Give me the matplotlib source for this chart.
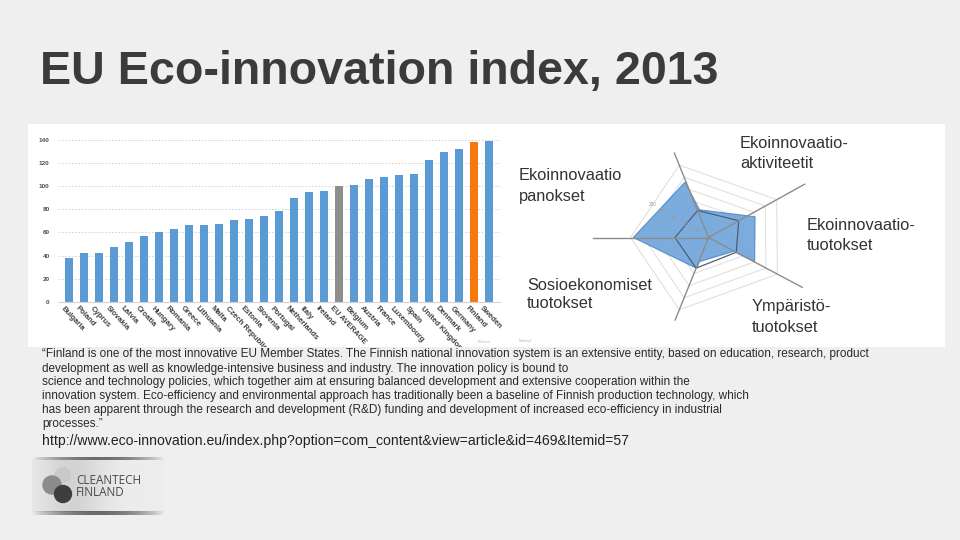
import numpy as np
import matplotlib
matplotlib.use('Agg')
import matplotlib.pyplot as plt
from matplotlib.patches import Rectangle, Circle
from matplotlib.transforms import ScaledTranslation

# Eco-innovation index 2013 (bar chart)
countries = ['Bulgaria', 'Poland', 'Cyprus', 'Slovakia', 'Latvia', 'Croatia', 'Hungary',
             'Romania', 'Greece', 'Lithuania', 'Malta', 'Czech Republic', 'Estonia',
             'Slovenia', 'Portugal', 'Netherlands', 'Italy', 'Ireland', 'EU AVERAGE',
             'Belgium', 'Austria', 'France', 'Luxembourg', 'Spain', 'United Kingdom',
             'Denmark', 'Germany', 'Finland', 'Sweden']
scores = [38, 42, 42.5, 47, 52, 57, 60, 63, 66, 66, 67, 71, 71.5, 74, 78, 90, 94.5,
          95.5, 100, 100.5, 106, 108, 109, 110, 122, 129, 132, 138, 139]
y_ticks = [0, 20, 40, 60, 80, 100, 120, 140]

# radar: five components (slide overlay texts) and their axis directions
components = [['Ekoinnovaatio', 'panokset'],
              ['Ekoinnovaatio-', 'aktiviteetit'],
              ['Ekoinnovaatio-', 'tuotokset'],
              ['Ympäristö-', 'tuotokset'],
              ['Sosioekonomiset', 'tuotokset']]
comp_angles = [112, 29, -28, -112, 180]
eu_values = [112, 133, 121, 127, 129]
# Finland outline (angle in degrees, index value)
fin_angles = [180, 113, 108, 24, -27.5, -29, -110.6, -111]
fin_values = [289, 231, 112, 196, 200, 110, 99, 127]
ring_values = [50, 100, 150, 200, 250, 300]

paragraph = [
    '\u201cFinland is one of the most innovative EU Member States. The Finnish national innovation system is an extensive entity, based on education, research, product',
    'development as well as knowledge-intensive business and industry. The innovation policy is bound to',
    'science and technology policies, which together aim at ensuring balanced development and extensive cooperation within the',
    'innovation system. Eco-efficiency and environmental approach has traditionally been a baseline of Finnish production technology, which',
    'has been apparent through the research and development (R&D) funding and development of increased eco-efficiency in industrial',
    'processes.\u201d',
]
url = 'http://www.eco-innovation.eu/index.php?option=com_content&view=article&id=469&Itemid=57'

W, H = 960, 540
def fx(x):
    return x / W
def fy(y):
    return 1 - y / H

plt.rcParams['font.family'] = ['Liberation Sans', 'DejaVu Sans']
fig = plt.figure(figsize=(9.6, 5.4), dpi=100)
fig.patch.set_facecolor('#efefef')

# title
fig.text(fx(40), fy(84), 'EU Eco-innovation index, 2013', fontsize=33.6, fontweight='bold',
         color='#3b3b3b', va='baseline')

# white screenshot panel
panel = Rectangle((fx(28), fy(347)), (945 - 28) / W, (347 - 124) / H,
                  transform=fig.transFigure, facecolor='white', edgecolor='none', zorder=0)
fig.add_artist(panel)

# ---- bar chart ----
ax = fig.add_axes([fx(58), fy(302), (500 - 58) / W, (302 - 139.5) / H])
ax.patch.set_alpha(0)
colors = []
for c in countries:
    if c == 'Finland':
        colors.append('#f7780c')
    elif c == 'EU AVERAGE':
        colors.append('#8e8e8e')
    else:
        colors.append('#5b9bd5')
x = np.arange(len(countries))
ax.bar(x, scores, width=0.55, color=colors, zorder=2)
ax.set_xlim(-0.75, len(countries) - 0.25)
ax.set_ylim(0, 140)
ax.set_yticks(y_ticks)
ax.yaxis.grid(True, linestyle=(0, (2, 2)), color='#cfcfcf', linewidth=0.6)
ax.set_axisbelow(True)
for s in ['top', 'right', 'left']:
    ax.spines[s].set_visible(False)
ax.spines['bottom'].set_color('#d4d4d4')
ax.spines['bottom'].set_linewidth(0.8)
ax.tick_params(axis='y', length=0, pad=6, labelsize=4.6, labelcolor='#505050')
ax.tick_params(axis='x', length=0, pad=2, labelsize=5.5, labelcolor='#404040')
for lbl in ax.get_yticklabels():
    lbl.set_fontweight('bold')
ax.set_xticks(x)
ax.set_xticklabels(countries, rotation=-47, ha='left', va='top', rotation_mode='anchor',
                   fontweight='bold')
for lbl in ax.get_xticklabels():
    lbl.set_transform(lbl.get_transform() + ScaledTranslation(-0.05, 0, fig.dpi_scale_trans))
    lbl.set_clip_path(panel)
fig.text(fx(478), fy(342), 'Finland', fontsize=2.8, color='#b5b5b5', va='center')

# ---- radar ----
R = 125
scale = 0.26  # px per index unit
cx, cy = 708.5, 237.5
rax = fig.add_axes([fx(cx - R), fy(cy + R), 2 * R / W, 2 * R / H])
rax.set_xlim(-R / scale, R / scale)
rax.set_ylim(-R / scale, R / scale)
rax.axis('off')

ang = np.deg2rad(comp_angles + comp_angles[:1])
for i, v in enumerate(ring_values):
    rc = '#eadccf' if i % 2 else '#e0e0e0'
    rax.plot(v * np.cos(ang), v * np.sin(ang), color=rc, lw=0.75, zorder=1)
for v in ring_values[:-1]:
    rax.text(v * np.cos(np.deg2rad(150)), v * np.sin(np.deg2rad(150)), str(v),
             fontsize=3.3, color='#9a9a9a', ha='center', va='center', zorder=4)

fa = np.deg2rad(fin_angles + fin_angles[:1])
fv = np.array(fin_values + fin_values[:1])
rax.fill(fv * np.cos(fa), fv * np.sin(fa), facecolor='#6ea3da', alpha=0.9,
         edgecolor='#4f88c6', lw=0.8, zorder=2)

ev = np.array(eu_values + eu_values[:1])
rax.plot(ev * np.cos(ang), ev * np.sin(ang), color='#4c5f78', lw=0.9, zorder=3)

# section divider lines from the slide overlay
div_len = [350, 423, 408, 342, 446]
for a, L in zip(comp_angles, div_len):
    t = np.deg2rad(a)
    rax.plot([0, L * np.cos(t)], [0, L * np.sin(t)], color='#8c8c8c', lw=1.0, zorder=5)

label_pos = [(519, 176, 197), (740, 143, 163), (807, 226, 246), (752, 307, 327), (527, 285, 304)]
for (l1, l2), (lx, y1, y2) in zip(components, label_pos):
    fig.text(fx(lx), fy(y1), l1, fontsize=11.8, color='#333333', va='center')
    fig.text(fx(lx), fy(y2), l2, fontsize=11.8, color='#333333', va='center')
fig.text(fx(519), fy(341), 'Finland', fontsize=2.8, color='#b5b5b5', va='center')

# ---- quote ----
line_y = [354, 369, 382, 396, 410, 424]
for s, yy in zip(paragraph, line_y):
    fig.text(fx(42), fy(yy), s, fontsize=8.45, color='#2a2a2a', va='center')
fig.text(fx(42), fy(441), url, fontsize=10.1, color='#222222', va='center')

# ---- logo ----
lax = fig.add_axes([fx(30), fy(516), 136 / W, 60 / H])
lax.set_xlim(30, 166)
lax.set_ylim(516, 456)
lax.axis('off')
xs = np.linspace(0, 1, 200)
band = np.ones((10, 200, 4))
shade = 0.93 - 0.10 * np.exp(-((xs - 0.3) / 0.25) ** 2)
band[..., 0] = shade
band[..., 1] = shade
band[..., 2] = shade
lax.imshow(band, extent=(32, 165, 512, 460), aspect='auto', zorder=0)
edge = np.zeros((3, 200, 4))
edge[..., 3] = 0.55 * np.sin(np.pi * xs) ** 0.8
for yl in [(460, 457), (515, 511)]:
    lax.imshow(edge, extent=(32, 165, yl[0], yl[1]), aspect='auto', zorder=1)
lax.add_patch(Circle((62.7, 475), 7.5, color='#c9c9c9', zorder=2))
lax.add_patch(Circle((52, 485), 9, color='#8b8b8b', zorder=3))
lax.add_patch(Circle((63, 494), 8.5, color='#3e3e3e', zorder=4))
lax.text(76, 486.5, 'CLEANTECH\nFINLAND', fontsize=8.5, color='#4a4a4a', family='Open Sans',
         va='center', linespacing=0.95)

fig.savefig('out.png', dpi=100, facecolor=fig.get_facecolor())
